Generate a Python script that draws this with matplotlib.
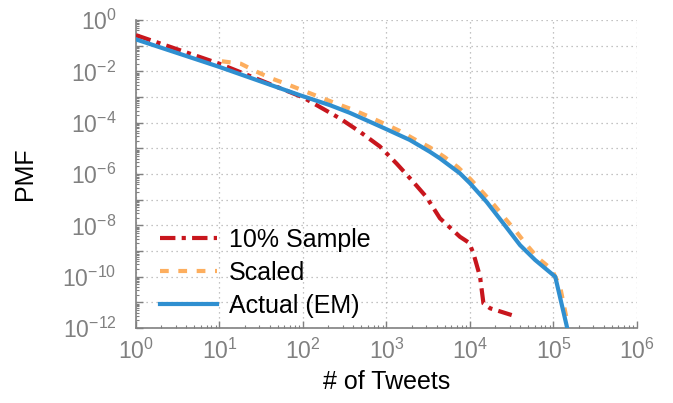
import math
import matplotlib
matplotlib.use("Agg")
import matplotlib.pyplot as plt
from matplotlib.ticker import LogLocator, FixedLocator, NullFormatter, FuncFormatter

plt.rcParams['font.family'] = ['Liberation Sans', 'DejaVu Sans']
plt.rcParams['mathtext.fontset'] = 'custom'
plt.rcParams['mathtext.rm'] = 'Liberation Sans'
plt.rcParams['mathtext.it'] = 'Liberation Sans:italic'
plt.rcParams['mathtext.bf'] = 'Liberation Sans:bold'
plt.rcParams['axes.unicode_minus'] = False

# Data
sample_x = [1, 10, 100, 158, 275, 479, 832, 1318, 2089, 3020, 4365, 7586, 9772,
            11000, 13200, 14500, 17400, 31600]
sample_y = [0.26, 2.0e-2, 9.8e-4, 4.2e-4, 1.5e-4, 4.5e-5, 1.2e-5, 2.6e-6, 5.0e-7,
            1.26e-7, 1.9e-8, 3.6e-9, 2.1e-9, 8.1e-10, 1.0e-10, 9.1e-12, 5.9e-12, 3.2e-12]

scaled_x = [10.7, 18, 27.5, 41.7, 66, 105, 251, 389, 603, 933, 1445, 2188, 3311, 5012,
            7244, 10200, 14100, 19500, 27000, 36000, 48000, 66000, 95000, 120000, 145000]
scaled_y = [2.5e-2, 2.0e-2, 1.0e-2, 5.4e-3, 3.1e-3, 1.7e-3, 5.6e-4, 3.3e-4, 1.8e-4,
            9.3e-5, 4.8e-5, 2.24e-5, 1.1e-5, 4.5e-6, 1.8e-6, 6.2e-7, 2.0e-7, 6.2e-8,
            1.7e-8, 5.6e-9, 1.7e-9, 5.2e-10, 1.95e-10, 4.1e-11, 2.0e-12]

actual_x = [1, 10, 91, 209, 363, 631, 955, 1905, 3311, 4365, 7586, 10000, 15800,
            25100, 39800, 60300, 105000, 145000]
actual_y = [0.178, 1.5e-2, 1.2e-3, 4.9e-4, 2.45e-4, 1.1e-4, 6.0e-5, 2.14e-5, 7.4e-6,
            4.1e-6, 1.07e-6, 4.4e-7, 8.3e-8, 1.2e-8, 1.7e-9, 4.5e-10, 1.0e-10, 1.1e-12]

labels = ["10% Sample", "Scaled", "Actual (EM)"]
x_ticks = [1, 10, 100, 1000, 10000, 100000, 1000000]
y_ticks = [1e-12, 1e-11, 1e-10, 1e-9, 1e-8, 1e-7, 1e-6, 1e-5, 1e-4, 1e-3, 1e-2, 1e-1, 1]

c_red = '#c8161d'
c_orange = '#fdae5e'
c_blue = '#2f8fd0'
gray = '#808080'

fig = plt.figure(figsize=(6.73, 4.03), dpi=100)
ax = fig.add_axes([0.202, 0.186, 0.7445, 0.764])

ax.plot(sample_x, sample_y, color=c_red, lw=3, dashes=(3.7, 1.5, 1, 1.5),
        dash_capstyle='butt', label=labels[0], zorder=3)
ax.plot(scaled_x, scaled_y, color=c_orange, lw=3, dashes=(2.1, 2.3),
        dash_capstyle='butt', label=labels[1], zorder=3)
ax.plot(actual_x, actual_y, color=c_blue, lw=3, label=labels[2], zorder=4)

ax.set_xscale('log')
ax.set_yscale('log')
ax.set_xlim(1, 1e6)
ax.set_ylim(1e-12, 1)

ax.xaxis.set_major_locator(FixedLocator(x_ticks))
ax.yaxis.set_major_locator(FixedLocator(y_ticks))
ax.xaxis.set_minor_locator(LogLocator(base=10, subs=range(2, 10), numticks=20))
ax.yaxis.set_minor_locator(LogLocator(base=10, subs=range(2, 10), numticks=30))
ax.xaxis.set_minor_formatter(NullFormatter())
ax.yaxis.set_minor_formatter(NullFormatter())


def fmt_x(v, pos):
    e = int(round(math.log10(v)))
    return r'$10^{%d}$' % e


def fmt_y(v, pos):
    e = int(round(math.log10(v)))
    if e % 2 != 0:
        return ''
    return r'$10^{%d}$' % e


ax.xaxis.set_major_formatter(FuncFormatter(fmt_x))
ax.yaxis.set_major_formatter(FuncFormatter(fmt_y))

for s in ['top', 'right']:
    ax.spines[s].set_visible(False)
for s in ['left', 'bottom']:
    ax.spines[s].set_color(gray)
    ax.spines[s].set_linewidth(1.2)

ax.tick_params(which='major', direction='in', length=5, width=1, color=gray,
               labelcolor=gray, labelsize=16.5)
ax.tick_params(which='minor', direction='in', length=2.5, width=0.8, color=gray)
ax.tick_params(axis='x', which='major', pad=8)
ax.tick_params(axis='y', which='major', pad=14)

ax.grid(True, which='major', linestyle=(0, (1, 3)), color='#b0b0b0', linewidth=0.9)
ax.set_axisbelow(True)

ax.set_xlabel('# of Tweets', fontsize=18, color='black', labelpad=4)
ax.set_ylabel('PMF', fontsize=18, color='black', labelpad=18)

leg = ax.legend(loc='lower left', bbox_to_anchor=(0.048, 0.032), frameon=False,
                fontsize=18, handlelength=2.3, handletextpad=0.45,
                labelspacing=0.37, borderpad=0, borderaxespad=0)

fig.savefig('out.png', dpi=100)
